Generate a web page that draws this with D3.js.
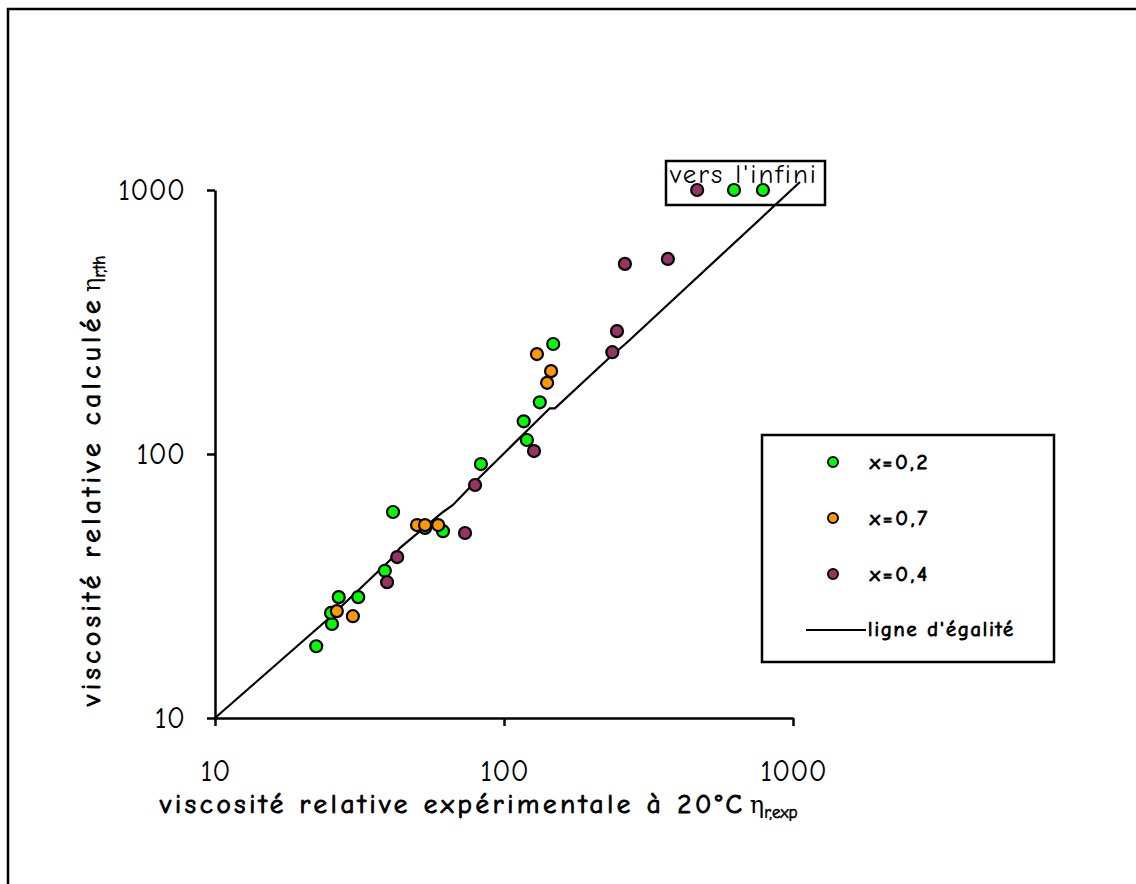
<!DOCTYPE html>
<html>
<head>
<meta charset="utf-8">
<script src="https://cdn.jsdelivr.net/npm/d3@7"></script>
<style>
  html, body { margin: 0; padding: 0; background: #fff; }
  svg { display: block; }
  text { font-family: 'Comic Sans MS', 'Comic Neue', 'DejaVu Sans', sans-serif; }
</style>
</head>
<body>
<svg id="chart" width="1136" height="884"></svg>
<script>
// ---- data ----
const tickValues = [10, 100, 1000];
const tickLabels = ["10", "100", "1000"];

const seriesNames = ["x=0,2", "x=0,7", "x=0,4"];
const seriesColors = ["#00ff00", "#ff9900", "#993366"];

// x = 0,2 (experimental, calculated)
const greenExp  = [22.4, 25.4, 25.2, 26.8, 31.3, 38.7, 41.3, 53.3, 61.5, 83.2, 120, 117, 133, 148, 625, 787];
const greenCalc = [18.7, 22.7, 25.0, 28.7, 28.7, 36.1, 60.3, 52.5, 51.0, 91.6, 113, 133, 157, 261, 1000, 1000];
// x = 0,7
const orangeExp  = [26.4, 30.0, 50.0, 53.3, 59.2, 130, 145.5, 141];
const orangeCalc = [25.4, 24.3, 53.8, 53.8, 53.8, 239, 206, 186];
// x = 0,4
const purpleExp  = [39.4, 42.7, 73.3, 79.4, 127, 237, 246, 262, 369, 466];
const purpleCalc = [32.7, 40.7, 50.2, 76.3, 102.6, 243, 292, 525, 548, 1000];

// ligne d'égalité
const egaliteX = [10, 24.4, 40.3, 43.6, 61.5, 66.6, 80.6, 144, 150, 233, 267, 1057];
const egaliteY = [10, 23.5, 39.6, 44.0, 60.3, 64.1, 79.7, 149, 149, 233, 265, 1072];

const xTitle = "viscosité relative expérimentale à 20°C";
const yTitle = "viscosité relative calculée";
const infiniLabel = "vers l'infini";
const lineLabel = "ligne d'égalité";

// ---- drawing ----
const svg = d3.select("#chart");
const x = d3.scaleLog().domain([10, 1000]).range([215, 793]);
const y = d3.scaleLog().domain([10, 1000]).range([718, 190]);

function fit(t, size, target, bold) {
  t.style("font-size", size + "px");
  if (bold) t.attr("stroke", "#000").attr("stroke-width", 1).attr("fill", "#000");
  const w = t.node().getComputedTextLength();
  const n = t.text().length;
  if (n > 1 && w < target) t.attr("letter-spacing", ((target - w) / n).toFixed(2));
}

// outer frame (extends beyond the picture on right/bottom)
svg.append("rect").attr("x", 8).attr("y", 9).attr("width", 1200).attr("height", 1000)
  .attr("fill", "none").attr("stroke", "#000").attr("stroke-width", 2.5);

// axes
const xAxis = d3.axisBottom(x).tickValues(tickValues).tickFormat((d, i) => tickLabels[i])
  .tickSize(8).tickSizeOuter(0).tickPadding(34);
const yAxis = d3.axisLeft(y).tickValues(tickValues).tickFormat((d, i) => tickLabels[i])
  .tickSize(8).tickSizeOuter(0).tickPadding(22);

const gx = svg.append("g").attr("transform", "translate(0,718)").call(xAxis);
const gy = svg.append("g").attr("transform", "translate(215,0)").call(yAxis);
[gx, gy].forEach(g => {
  g.selectAll("path.domain").attr("stroke", "#000").attr("stroke-width", 2.5);
  g.selectAll(".tick line").attr("stroke", "#000").attr("stroke-width", 2.5);
  g.selectAll(".tick text").attr("fill", "#000").style("font-size", "30px")
    .style("font-family", "'Comic Sans MS', 'Comic Neue', 'DejaVu Sans', sans-serif");
});

// line of equality
const line = d3.line().x(d => x(d[0])).y(d => y(d[1]));
const eqData = egaliteX.map((v, i) => [v, egaliteY[i]]);

// infinity box
svg.append("rect").attr("x", 666).attr("y", 161).attr("width", 159).attr("height", 44)
  .attr("fill", "#fff").attr("stroke", "#000").attr("stroke-width", 2.5);
const inf = svg.append("text").attr("x", 670).attr("y", 183).text(infiniLabel);
fit(inf, 27, 148, false);

svg.append("path").datum(eqData).attr("d", line)
  .attr("fill", "none").attr("stroke", "#000").attr("stroke-width", 2.2);

// points
const series = [
  {xs: greenExp, ys: greenCalc, c: seriesColors[0]},
  {xs: orangeExp, ys: orangeCalc, c: seriesColors[1]},
  {xs: purpleExp, ys: purpleCalc, c: seriesColors[2]}
];
series.forEach(s => {
  svg.append("g").selectAll("circle").data(s.xs.map((v, i) => [v, s.ys[i]])).join("circle")
    .attr("cx", d => x(d[0])).attr("cy", d => y(d[1])).attr("r", 6)
    .attr("fill", s.c).attr("stroke", "#000").attr("stroke-width", 2.2);
});

// legend
const lg = svg.append("g");
lg.append("rect").attr("x", 762).attr("y", 435).attr("width", 292).attr("height", 227)
  .attr("fill", "#fff").attr("stroke", "#000").attr("stroke-width", 2.5);
const legY = [462, 518, 574];
seriesNames.forEach((n, i) => {
  lg.append("circle").attr("cx", 833).attr("cy", legY[i]).attr("r", 5)
    .attr("fill", seriesColors[i]).attr("stroke", "#000").attr("stroke-width", 2);
  const t = lg.append("text").attr("x", 870).attr("y", legY[i] + 7).text(n);
  fit(t, 21, 60, true);
});
lg.append("line").attr("x1", 806).attr("x2", 866).attr("y1", 630).attr("y2", 630)
  .attr("stroke", "#000").attr("stroke-width", 2);
const lt = lg.append("text").attr("x", 868).attr("y", 636).text(lineLabel);
fit(lt, 20, 147, true);

// axis titles
const xt = svg.append("text").attr("x", 160).attr("y", 813).attr("fill", "#000");
const xMain = xt.append("tspan").text(xTitle);
fit(xMain, 27, 586, true);
xt.append("tspan").attr("dx", 4).style("font-family", "'DejaVu Serif', serif")
  .style("font-size", "24px").text("η");
xt.append("tspan").attr("dy", 5).style("font-size", "17px")
  .attr("stroke", "#000").attr("stroke-width", 0.6).text("r,exp");

const yt = svg.append("text").attr("transform", "translate(100,706) rotate(-90)").attr("fill", "#000");
const yMain = yt.append("tspan").text(yTitle);
fit(yMain, 27, 410, true);
yt.append("tspan").attr("dx", 4).style("font-family", "'DejaVu Serif', serif")
  .style("font-size", "24px").text("η");
yt.append("tspan").attr("dy", 5).style("font-size", "17px")
  .attr("stroke", "#000").attr("stroke-width", 0.6).text("r,th");
</script>
</body>
</html>
